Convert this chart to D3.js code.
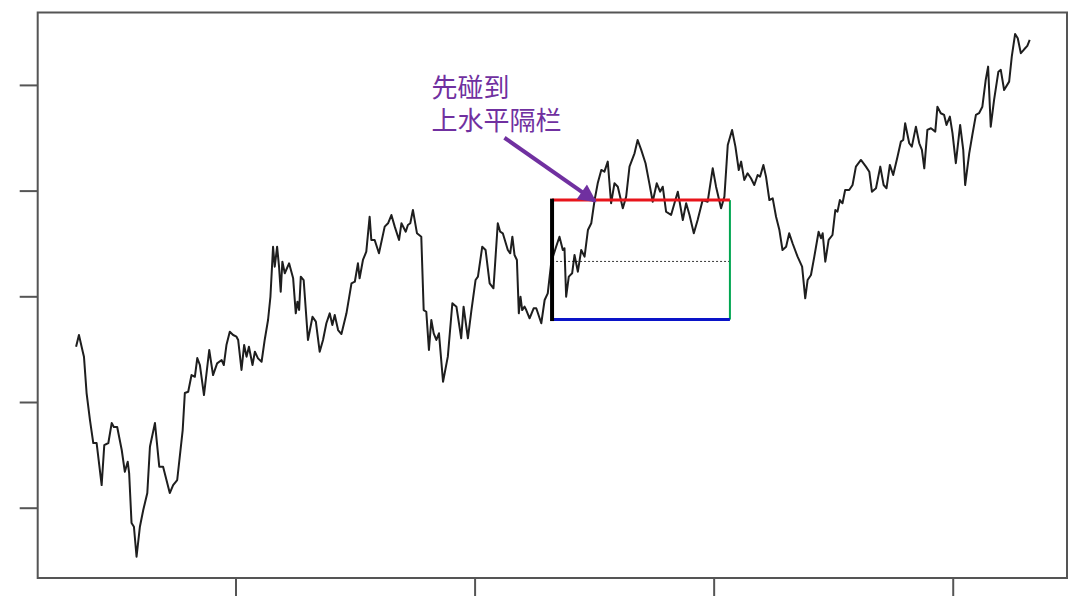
<!DOCTYPE html>
<html lang="zh">
<head>
	<meta charset="utf-8">
	<title>三重隔栏</title>
	<style type="text/css">
		body { margin: 0; background: #fff; }
		.axis path { display: none; }
		.axis line { stroke: #555; stroke-width: 2px; }
		.frame { fill: none; stroke: #555; stroke-width: 2px; }
		.price { fill: none; stroke: #1e1e1e; stroke-width: 2px; stroke-linejoin: round; }
		.note { font-family: "Noto Sans CJK SC", sans-serif; font-size: 26px; fill: #7030A0; }
	</style>
	<script src="https://cdn.jsdelivr.net/npm/d3@7"></script>
</head>
<body>
<script>
// price path at its turning points
var days = [33.3,34.5,36.1,36.6,37.7,39.1,40.5,41.9,44.0,45.1,46.8,48.2,49.1,50.5,52.4,53.7,54.9,55.5,56.5,57.5,58.6,60.0,61.4,63.1,64.2,66.3,68.1,69.7,72.5,73.9,75.6,77.9,
	78.8,80.2,81.6,83.0,84.0,85.1,86.8,89.0,90.6,92.3,94.2,95.1,96.2,97.6,99.0,100.4,101.1,102.5,103.6,104.6,105.6,107.1,108.1,109.4,110.9,112.2,113.6,114.6,115.7,116.4,117.4,118.2,118.9,119.6,120.6,122.4,124.1,125.2,125.9,126.6,127.3,128.5,130.3,132.2,133.6,135.2,
	136.6,138.0,139.4,140.5,141.5,142.9,144.3,146.4,148.5,149.9,151.2,151.9,153.3,154.7,156.1,156.8,158.2,160.0,162.4,163.8,165.2,166.6,168.4,169.4,171.2,172.1,173.1,174.2,175.9,177.7,178.7,179.8,180.9,181.9,182.9,184.0,185.1,
	186.8,188.8,190.7,192.4,194.4,195.4,197.2,198.6,200.4,201.4,203.2,204.6,206.3,207.9,209.7,210.7,211.8,213.9,214.9,215.8,216.7,217.7,218.5,219.2,219.9,220.9,221.6,223.0,224.7,225.8,227.9,229.3,230.6,232.1,
	234.1,235.5,236.9,237.6,238.3,239.4,240.8,241.8,243.2,244.6,246.0,247.4,248.8,250.2,251.5,253.0,254.3,255.7,257.1,258.5,259.9,262.0,263.4,264.8,266.9,268.2,269.7,271.5,273.1,274.5,276.2,277.6,278.7,280.1,282.2,283.6,285.0,287.1,288.5,289.9,291.7,293.3,295.4,297.5,299.6,301.0,303.1,304.5,305.9,
	307.7,309.1,310.5,311.5,312.8,314.2,315.6,317.0,318.4,319.4,320.8,321.9,323.3,324.7,326.1,327.5,328.8,330.3,331.6,333.0,335.1,337.0,338.3,339.3,340.7,342.1,343.9,344.9,345.6,346.7,348.1,349.7,350.9,351.8,352.8,353.9,355.0,
	356.7,358.1,359.5,361.6,363.7,365.1,366.2,367.9,369.7,371.1,372.3,373.7,375.1,376.9,378.3,379.3,380.1,381.8,382.9,384.6,386.0,387.1,388.1,389.4,390.9,392.7,393.6,395.0,396.4,397.4,398.8,399.9,401.3,403.1,404.4,405.2,406.9,408.2,409.7,411.0,412.4,413.8,414.8,415.9,417.3,419.1,420.1,421.5,423.6,424.7,426.1,427.2,428.5,429.9,431.2,432.2];

var price = [95.23,96.34,94.76,94.29,90.85,88.30,86.12,86.12,82.14,85.93,86.12,88.01,87.63,87.63,85.46,83.40,84.35,83.28,78.55,78.20,75.36,78.20,79.78,81.39,85.77,88.01,83.88,83.88,81.39,82.14,82.62,87.35,
	90.85,90.97,92.55,92.39,94.16,93.50,90.66,94.92,92.55,93.66,93.97,93.50,95.39,96.65,96.34,96.18,95.87,93.03,95.39,94.29,95.23,93.50,94.76,94.13,93.81,95.87,97.76,99.96,104.69,102.80,104.69,102.80,100.44,103.28,102.18,103.12,101.70,98.39,99.49,98.70,101.86,101.54,95.87,98.07,97.60,94.76,
	95.87,97.45,98.39,97.29,98.23,96.81,96.43,98.39,101.23,101.38,103.12,101.70,103.44,104.22,107.53,105.33,105.33,104.07,106.59,106.91,107.69,106.59,105.33,106.91,106.11,106.75,106.91,108.17,105.96,105.64,98.70,98.54,94.92,97.76,96.50,95.87,96.50,
	91.92,94.29,99.34,99.02,96.03,99.02,96.03,98.54,101.54,101.86,104.69,104.38,101.23,100.76,106.91,106.11,105.96,104.38,104.07,105.64,103.91,103.44,98.39,99.96,98.70,99.02,98.70,97.92,98.87,98.87,97.45,99.65,100.28,103.28,
	104.69,105.64,104.38,104.54,99.96,101.86,102.18,103.91,102.33,104.38,103.75,106.27,106.91,109.11,110.69,111.95,111.79,112.74,108.80,110.69,110.37,108.33,109.43,112.27,113.53,114.79,113.85,112.59,110.69,108.95,110.69,109.90,110.37,108.01,107.69,108.80,109.90,107.22,108.80,107.69,105.96,107.22,109.11,108.95,112.11,110.37,108.33,109.43,114.32,
	115.74,114.16,111.95,112.74,111.01,111.64,111.17,110.53,111.48,111.32,112.43,111.32,109.11,109.27,107.53,106.27,104.38,104.69,105.96,105.02,103.75,102.80,99.81,101.54,102.02,103.75,106.11,105.49,105.96,103.28,105.33,105.80,108.17,108.01,109.11,108.80,110.06,
	110.06,110.53,112.27,112.90,112.27,111.79,109.90,110.22,112.27,110.53,110.22,112.43,111.48,113.21,114.63,114.79,116.37,114.48,114.16,116.05,114.48,113.85,112.11,115.74,115.90,115.58,117.94,117.32,117.16,116.21,117.00,115.43,112.59,116.21,113.85,110.53,113.53,115.26,117.16,117.32,117.94,120.47,121.73,116.05,118.58,121.25,121.42,119.52,120.31,122.67,124.82,124.42,123.00,123.37,123.69,124.25];

// triple barrier window
var barrierStart = 232.4, barrierEnd = 306.8;
var entryPrice = 103.3, upperBarrier = 109.1, lowerBarrier = 97.8;

var xTicks = [100, 200, 300, 400];
var yTicks = [80, 90, 100, 110, 120];

var noteLines = ["先碰到", "上水平隔栏"];
var noteAt = {day: 182.0, price: 118.9};
var arrowFrom = {day: 212.5, price: 115.0}, arrowTo = {day: 250.4, price: 109.0};

var width = 1080, height = 606;
var box = {left: 37.7, right: 1067, top: 12.5, bottom: 578};

var x = d3.scaleLinear().domain([17.25, 447.8]).range([box.left, box.right]);
var y = d3.scaleLinear().domain([73.35, 126.85]).range([box.bottom, box.top]);

var svg = d3.select("body").append("svg")
	.attr("width", width)
	.attr("height", height);

svg.append("defs").append("marker")
	.attr("id", "head")
	.attr("viewBox", "0 0 10 10")
	.attr("refX", 9).attr("refY", 5)
	.attr("markerWidth", 5).attr("markerHeight", 4.5)
	.attr("orient", "auto")
  .append("path")
	.attr("d", "M0,0 L10,5 L0,10 z")
	.attr("fill", "#7030A0");

svg.append("g")
	.attr("class", "y axis")
	.attr("transform", "translate(" + box.left + ",0)")
	.call(d3.axisLeft(y).tickValues(yTicks).tickSize(18).tickFormat(""));

svg.append("g")
	.attr("class", "x axis")
	.attr("transform", "translate(0," + box.bottom + ")")
	.call(d3.axisBottom(x).tickValues(xTicks).tickSize(18).tickFormat(""));

svg.append("rect")
	.attr("class", "frame")
	.attr("x", box.left).attr("y", box.top)
	.attr("width", box.right - box.left).attr("height", box.bottom - box.top);

var pts = days.map(function(d, i){ return [d, price[i]]; });

svg.append("path")
	.datum(pts)
	.attr("class", "price")
	.attr("d", d3.line()
		.x(function(d){ return x(d[0]); })
		.y(function(d){ return y(d[1]); }));

// barriers
svg.append("line")
	.attr("x1", x(barrierStart)).attr("x2", x(barrierEnd))
	.attr("y1", y(entryPrice)).attr("y2", y(entryPrice))
	.attr("stroke", "#000").attr("stroke-width", 0.8)
	.attr("stroke-dasharray", "2,2");

svg.append("line")
	.attr("x1", x(barrierEnd)).attr("x2", x(barrierEnd))
	.attr("y1", y(upperBarrier)).attr("y2", y(lowerBarrier))
	.attr("stroke", "#00A651").attr("stroke-width", 2);

svg.append("line")
	.attr("x1", x(barrierStart)).attr("x2", x(barrierEnd))
	.attr("y1", y(upperBarrier)).attr("y2", y(upperBarrier))
	.attr("stroke", "#E8141B").attr("stroke-width", 3);

svg.append("line")
	.attr("x1", x(barrierStart)).attr("x2", x(barrierEnd))
	.attr("y1", y(lowerBarrier)).attr("y2", y(lowerBarrier))
	.attr("stroke", "#0A14C8").attr("stroke-width", 3);

svg.append("line")
	.attr("x1", x(barrierStart)).attr("x2", x(barrierStart))
	.attr("y1", y(upperBarrier) - 1.5).attr("y2", y(lowerBarrier) + 1.5)
	.attr("stroke", "#000").attr("stroke-width", 4);

// annotation
svg.append("line")
	.attr("x1", x(arrowFrom.day)).attr("y1", y(arrowFrom.price))
	.attr("x2", x(arrowTo.day)).attr("y2", y(arrowTo.price))
	.attr("stroke", "#7030A0").attr("stroke-width", 4)
	.attr("marker-end", "url(#head)");

svg.append("text")
	.attr("class", "note")
	.attr("x", x(noteAt.day))
	.attr("y", y(noteAt.price))
	.selectAll("tspan")
	.data(noteLines)
	.enter()
	.append("tspan")
	.attr("x", x(noteAt.day))
	.attr("dy", function(d, i){ return i ? "1.3em" : 0; })
	.text(function(d){ return d; });
</script>
</body>
</html>
